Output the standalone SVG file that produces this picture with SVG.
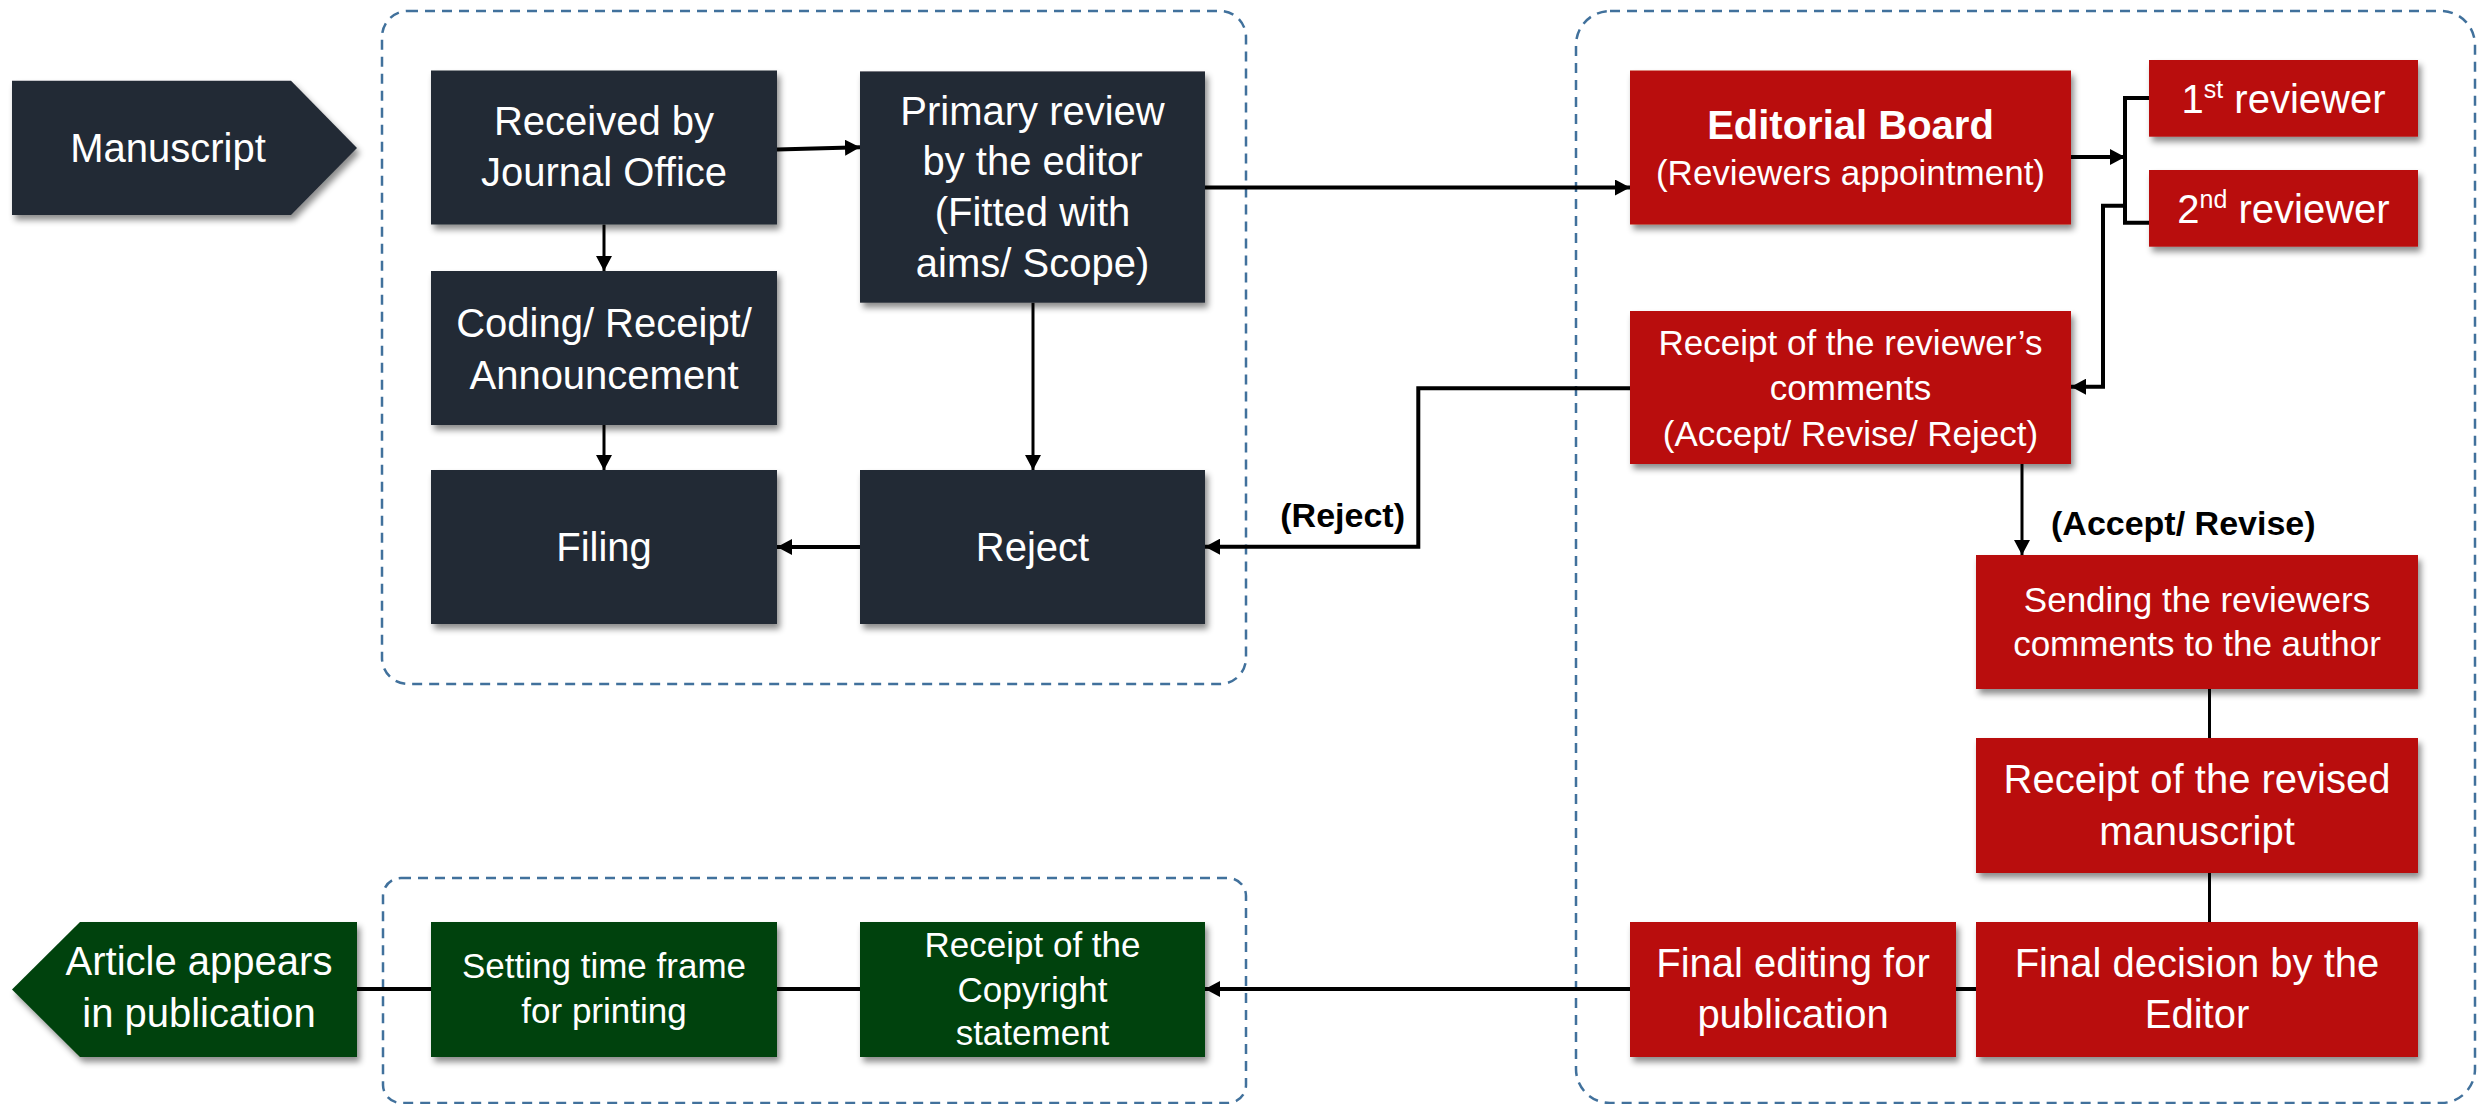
<svg xmlns="http://www.w3.org/2000/svg" width="2481" height="1104" viewBox="0 0 2481 1104">
  <style>
    .navy { fill: #232A35; }
    .red { fill: #B90E0B; }
    .green { fill: #05430C; }
    .shadow { filter: url(#sh); }
    .t { font-family: "Liberation Sans", Arial, sans-serif; fill: #FFFFFF; text-anchor: middle; }
    .l { font-size: 40px; }
    .s { font-size: 35px; }
    .b { font-weight: bold; }
    .lab { font-family: "Liberation Sans", Arial, sans-serif; font-weight: bold; font-size: 34px; fill: #000000; }
    .grp { fill: none; stroke: #41719C; stroke-width: 2.5; stroke-dasharray: 10 7; }
    .c { fill: none; stroke: #000000; stroke-width: 4; }
    .c3 { fill: none; stroke: #000000; stroke-width: 3; }
    .arr { marker-end: url(#ah); }
  </style>
  <defs>
    <filter id="sh" x="-10%" y="-10%" width="130%" height="140%">
      <feDropShadow dx="3" dy="5" stdDeviation="3" flood-color="#000000" flood-opacity="0.45"/>
    </filter>
    <marker id="ah" markerUnits="userSpaceOnUse" markerWidth="16" markerHeight="16" refX="15" refY="8" orient="auto">
      <path d="M0,0 L15,8 L0,16 z" fill="#000000"/>
    </marker>
  </defs>
  <rect width="2481" height="1104" fill="#FFFFFF"/>

  <g id="groups">
    <rect class="grp" x="382" y="11" width="864" height="673" rx="26"/>
    <rect class="grp" x="1576" y="11" width="899" height="1092" rx="34"/>
    <rect class="grp" x="383" y="878" width="863" height="225" rx="18"/>
  </g>

  <g id="connectors">
    <path class="c arr" d="M777,149.5 L860,147.3"/>
    <path class="c3 arr" d="M604,224.5 L604,271"/>
    <path class="c3 arr" d="M604,425 L604,470"/>
    <path class="c3 arr" d="M1033,302.7 L1033,470"/>
    <path class="c arr" d="M860,547 L777,547"/>
    <path class="c arr" d="M1205,187.5 L1630,187.5"/>
    <path class="c arr" d="M2071,157 L2125,157"/>
    <path class="c" d="M2149,98 L2125,98 L2125,222.7 L2149,222.7"/>
    <path class="c arr" d="M2125,205.7 L2103,205.7 L2103,386.7 L2071,386.7"/>
    <path class="c arr" d="M1630,388.3 L1418.3,388.3 L1418.3,546.7 L1205,546.7"/>
    <path class="c3 arr" d="M2022,464 L2022,555"/>
    <path class="c3" d="M2209.5,689 L2209.5,738"/>
    <path class="c3" d="M2209.5,873 L2209.5,922"/>
    <path class="c" d="M1976,989 L1956,989"/>
    <path class="c arr" d="M1630,989 L1205,989"/>
    <path class="c" d="M860,989 L777,989"/>
    <path class="c" d="M431,989 L357,989"/>
    <text class="lab" x="1405" y="527" text-anchor="end">(Reject)</text>
    <text class="lab" x="2051" y="535">(Accept/ Revise)</text>
  </g>

  <g id="manuscript">
    <polygon class="navy shadow" points="12,80.7 291,80.7 357,148 291,215 12,215"/>
    <text class="t l" x="168" y="162">Manuscript</text>
  </g>
  <g id="received">
    <rect class="navy shadow" x="431" y="70.5" width="346" height="154"/>
    <text class="t l" x="604" y="135">Received by</text>
    <text class="t l" x="604" y="186">Journal Office</text>
  </g>
  <g id="primary-review">
    <rect class="navy shadow" x="860" y="71.4" width="345" height="231.3"/>
    <text class="t l" x="1032.5" y="125">Primary review</text>
    <text class="t l" x="1032.5" y="175">by the editor</text>
    <text class="t l" x="1032.5" y="226">(Fitted with</text>
    <text class="t l" x="1032.5" y="277">aims/ Scope)</text>
  </g>
  <g id="coding">
    <rect class="navy shadow" x="431" y="271" width="346" height="154"/>
    <text class="t l" x="604" y="337">Coding/ Receipt/</text>
    <text class="t l" x="604" y="389">Announcement</text>
  </g>
  <g id="filing">
    <rect class="navy shadow" x="431" y="470" width="346" height="154"/>
    <text class="t l" x="604" y="561">Filing</text>
  </g>
  <g id="reject">
    <rect class="navy shadow" x="860" y="470" width="345" height="154"/>
    <text class="t l" x="1032.5" y="561">Reject</text>
  </g>

  <g id="editorial-board">
    <rect class="red shadow" x="1630" y="70.5" width="441" height="154"/>
    <text class="t l b" x="1850.5" y="139">Editorial Board</text>
    <text class="t s" x="1850.5" y="185">(Reviewers appointment)</text>
  </g>
  <g id="reviewer-1">
    <rect class="red shadow" x="2149" y="60" width="269" height="76.7"/>
    <text class="t l" x="2283.5" y="113">1<tspan font-size="25" dy="-15">st</tspan><tspan dy="15"> reviewer</tspan></text>
  </g>
  <g id="reviewer-2">
    <rect class="red shadow" x="2149" y="170" width="269" height="76.7"/>
    <text class="t l" x="2283.5" y="223">2<tspan font-size="25" dy="-15">nd</tspan><tspan dy="15"> reviewer</tspan></text>
  </g>
  <g id="reviewer-comments">
    <rect class="red shadow" x="1630" y="311" width="441" height="153"/>
    <text class="t s" x="1850.5" y="355">Receipt of the reviewer’s</text>
    <text class="t s" x="1850.5" y="400">comments</text>
    <text class="t s" x="1850.5" y="446">(Accept/ Revise/ Reject)</text>
  </g>
  <g id="sending">
    <rect class="red shadow" x="1976" y="555" width="442" height="134"/>
    <text class="t s" x="2197" y="612">Sending the reviewers</text>
    <text class="t s" x="2197" y="656">comments to the author</text>
  </g>
  <g id="revised">
    <rect class="red shadow" x="1976" y="738" width="442" height="135"/>
    <text class="t l" x="2197" y="793">Receipt of the revised</text>
    <text class="t l" x="2197" y="845">manuscript</text>
  </g>
  <g id="final-decision">
    <rect class="red shadow" x="1976" y="922" width="442" height="135"/>
    <text class="t l" x="2197" y="977">Final decision by the</text>
    <text class="t l" x="2197" y="1028">Editor</text>
  </g>
  <g id="final-editing">
    <rect class="red shadow" x="1630" y="922" width="326" height="135"/>
    <text class="t l" x="1793" y="977">Final editing for</text>
    <text class="t l" x="1793" y="1028">publication</text>
  </g>

  <g id="copyright">
    <rect class="green shadow" x="860" y="922" width="345" height="135"/>
    <text class="t s" x="1032.5" y="957">Receipt of the</text>
    <text class="t s" x="1032.5" y="1002">Copyright</text>
    <text class="t s" x="1032.5" y="1045">statement</text>
  </g>
  <g id="setting">
    <rect class="green shadow" x="431" y="922" width="346" height="135"/>
    <text class="t s" x="604" y="978">Setting time frame</text>
    <text class="t s" x="604" y="1023">for printing</text>
  </g>
  <g id="article">
    <polygon class="green shadow" points="80,922 357,922 357,1057 80,1057 12,989.5"/>
    <text class="t l" x="199" y="975">Article appears</text>
    <text class="t l" x="199" y="1027">in publication</text>
  </g>
</svg>
